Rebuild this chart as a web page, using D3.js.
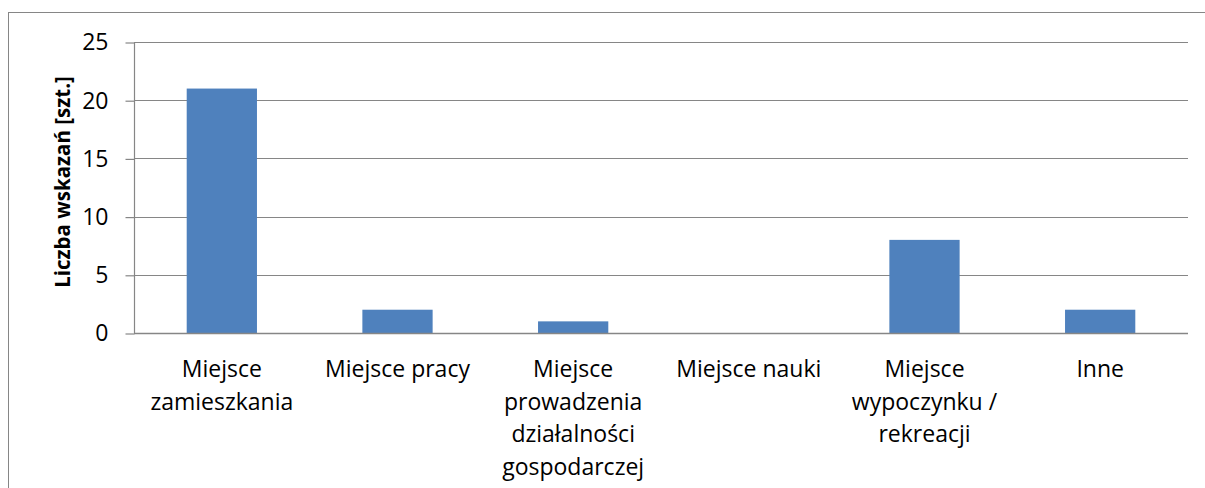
<!DOCTYPE html>
<html><head><meta charset="utf-8">
<script src="https://cdn.jsdelivr.net/npm/d3@7"></script>
<style>body{margin:0;background:#fff}svg{display:block}text{font-family:"Open Sans",sans-serif;fill:#000}</style>
</head><body><svg id="c" width="1205" height="488"></svg>
<script>
const categories = [["Miejsce","zamieszkania"],["Miejsce pracy"],["Miejsce","prowadzenia","działalności","gospodarczej"],["Miejsce nauki"],["Miejsce","wypoczynku /","rekreacji"],["Inne"]];
const values = [21, 2, 1, 0, 8, 2];
const yTicks = [0, 5, 10, 15, 20, 25];
const yTitle = "Liczba wskazań [szt.]";

const svg = d3.select("#c");
svg.append("rect").attr("x",8.5).attr("y",12.5).attr("width",1220).attr("height",500).attr("fill","none").attr("stroke","#868686").attr("stroke-width",1);

const L=134, R=1188, T=42, B=333;
const x = d3.scaleBand().domain(d3.range(categories.length)).range([L,R]).paddingInner(0.6).paddingOuter(0.3);
const y = d3.scaleLinear().domain([0,25]).range([B,T]);

// gridlines
svg.append("g").selectAll("line").data(yTicks).join("line")
  .attr("x1",L).attr("x2",R).attr("y1",d=>Math.round(y(d))+0.5).attr("y2",d=>Math.round(y(d))+0.5)
  .attr("stroke","#868686").attr("stroke-width",1.2);

// bars
svg.append("g").selectAll("rect").data(values).join("rect")
  .attr("x",(d,i)=>x(i)).attr("width",x.bandwidth())
  .attr("y",d=>y(d)).attr("height",d=>B-y(d)).attr("fill","#4F81BD");

// y axis
const ya = d3.axisLeft(y).tickValues(yTicks).tickSize(9).tickPadding(17);
const gy = svg.append("g").attr("transform",`translate(${L+0.5},0.5)`).call(ya);
gy.select(".domain").attr("stroke","#868686").attr("stroke-width",1.2).attr("d",`M0,${T}V${B}`);
gy.selectAll(".tick line").attr("stroke","#868686").attr("stroke-width",1.2);
gy.selectAll(".tick text").attr("font-size",23).attr("font-family","Open Sans").attr("fill","#000");

// zero axis line
svg.append("line").attr("x1",L).attr("x2",R).attr("y1",B+0.5).attr("y2",B+0.5).attr("stroke","#868686").attr("stroke-width",1.5);

// x labels
const xl = svg.append("g");
categories.forEach((lines,i)=>{
  const t = xl.append("text").attr("text-anchor","middle").attr("font-size",23)
    .attr("x",x(i)+x.bandwidth()/2).attr("y",377);
  lines.forEach((s,k)=>t.append("tspan").attr("x",x(i)+x.bandwidth()/2).attr("dy",k?32.5:0).text(s));
});

// y title
svg.append("text").attr("transform","translate(70,182) rotate(-90)").attr("text-anchor","middle")
  .attr("font-size",20.5).attr("font-weight","bold").text(yTitle);
</script></body></html>
